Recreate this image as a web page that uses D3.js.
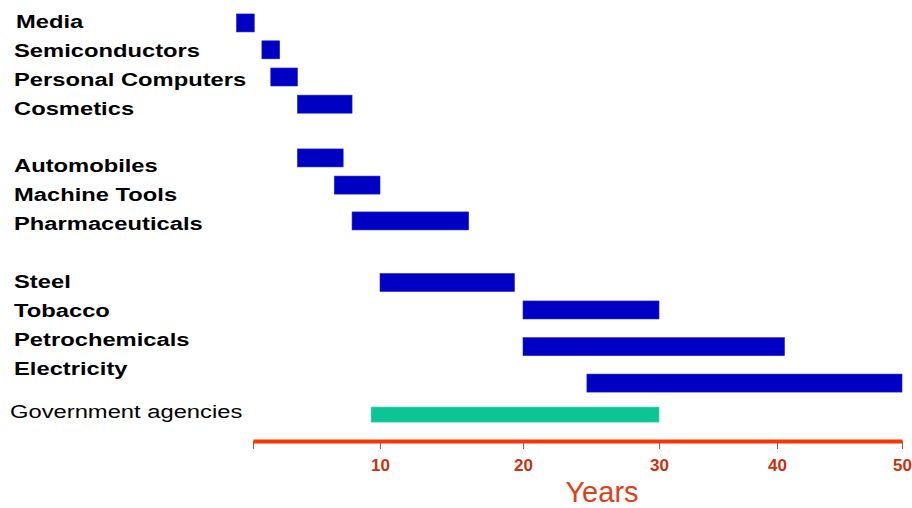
<!DOCTYPE html>
<html>
<head>
<meta charset="utf-8">
<script src="https://cdn.jsdelivr.net/npm/d3@7"></script>
<style>
  body { margin: 0; background: #fff; }
  text { font-family: "Liberation Sans", Arial, sans-serif; }
</style>
</head>
<body>
<div id="chart"></div>
<script>
// industries and the span of years each one covers
var industries = ["Media", "Semiconductors", "Personal Computers", "Cosmetics",
  "Automobiles", "Machine Tools", "Pharmaceuticals",
  "Steel", "Tobacco", "Petrochemicals", "Electricity", "Government agencies"];
var startYears = [-1.3, 0.7, 1.4, 3.5, 3.5, 6.4, 7.8, 10, 20, 20, 24.7, 9.3];
var endYears   = [0.1, 2.1, 3.5, 7.8, 7.1, 10, 16.2, 19.4, 30, 40.6, 50, 30];
// row slot of each label and of each bar (groups are split by empty rows)
var labelSlot = [0, 1, 2, 3, 5, 6, 7, 9, 10, 11, 12, 13.5];
var barSlot   = [0.05, 0.98, 1.92, 2.86, 4.72, 5.66, 6.9, 9.03, 9.98, 11.25, 12.51, 13.6];
var tickYears = [0, 10, 20, 30, 40, 50];
var axisTitle = "Years";

var width = 912, height = 508;

var data = industries.map(function(name, i) {
  return { name: name, start: startYears[i], end: endYears[i],
           slot: labelSlot[i], bar: barSlot[i], gov: name === "Government agencies" };
});

var svg = d3.select("#chart")
  .append("svg")
  .attr("width", width)
  .attr("height", height);

// the axis in the picture is not evenly spaced, so use a piecewise scale
var xScale = d3.scaleLinear()
  .domain(tickYears)
  .range([253, 380, 523, 659, 777, 902]);

var yScale = d3.scaleLinear()
  .domain([0, 13.5])
  .range([21.5, 411.7]);

// labels
svg.selectAll("text.label")
  .data(data)
  .enter()
  .append("text")
  .attr("class", "label")
  .attr("transform", function(d) {
    var x = d.gov ? 10 : (d.name === "Media" ? 16 : 14);
    return "translate(" + x + "," + yScale(d.slot) + ") scale(1.32,1)";
  })
  .attr("dy", "0.35em")
  .attr("font-size", 18)
  .attr("font-weight", function(d) { return d.gov ? "normal" : "bold"; })
  .attr("fill", "#000")
  .text(function(d) { return d.name; });

// bars
svg.selectAll("rect.bar")
  .data(data)
  .enter()
  .append("rect")
  .attr("class", "bar")
  .attr("x", function(d) { return xScale(d.start); })
  .attr("width", function(d) { return xScale(d.end) - xScale(d.start); })
  .attr("y", function(d) { return yScale(d.bar) - (d.gov ? 7.5 : 9); })
  .attr("height", function(d) { return d.gov ? 15 : 18; })
  .attr("fill", function(d) { return d.gov ? "#0CC494" : "#0000C4"; })
  .attr("stroke", function(d) { return d.gov ? "#30D0B0" : "#2020D0"; })
  .attr("stroke-width", 0.6);

// x axis
var axis = svg.append("g")
  .attr("transform", "translate(0,441)")
  .call(d3.axisBottom(xScale)
    .tickValues(tickYears)
    .tickSize(8)
    .tickSizeOuter(0)
    .tickPadding(10)
    .tickFormat(function(d) { return d ? d : ""; }));

axis.select(".domain")
  .attr("stroke", "#FF3300")
  .attr("stroke-width", 4);
axis.selectAll(".tick line")
  .attr("stroke", "#B05040")
  .attr("stroke-width", 1);
axis.selectAll(".tick text")
  .attr("fill", "#C83210")
  .attr("font-size", 17)
  .attr("font-weight", "bold")
  .attr("font-family", "'Liberation Sans', Arial, sans-serif");

svg.append("text")
  .attr("x", 602)
  .attr("y", 502)
  .attr("text-anchor", "middle")
  .attr("font-size", 29)
  .attr("fill", "#E04018")
  .text(axisTitle);
</script>
</body>
</html>
